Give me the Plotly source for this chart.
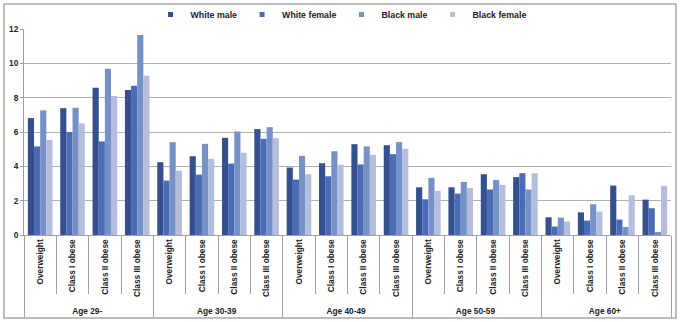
import plotly.graph_objects as go

ages = ["Age 29-", "Age 30-39", "Age 40-49", "Age 50-59", "Age 60+"]
classes = ["Overweight", "Class I obese", "Class II obese", "Class III obese"]

white_male = [6.81, 7.39, 8.58, 8.44, 4.24, 4.59, 5.66, 6.17, 3.93, 4.18, 5.29, 5.23,
              2.78, 2.78, 3.54, 3.37, 1.03, 1.32, 2.88, 2.06]
white_female = [5.16, 5.99, 5.45, 8.70, 3.17, 3.52, 4.16, 5.60, 3.23, 3.42, 4.11, 4.71,
                2.08, 2.41, 2.65, 3.60, 0.49, 0.84, 0.90, 1.56]
black_male = [7.26, 7.41, 9.69, 11.65, 5.41, 5.31, 6.03, 6.28, 4.61, 4.88, 5.16, 5.41,
              3.33, 3.09, 3.21, 2.65, 1.01, 1.79, 0.47, 0.18]
black_female = [5.54, 6.50, 8.09, 9.28, 3.75, 4.44, 4.79, 5.64, 3.54, 4.09, 4.67, 5.02,
                2.57, 2.74, 2.92, 3.60, 0.78, 1.36, 2.31, 2.86]

series = [("White male", white_male, "#34508f"),
          ("White female", white_female, "#4a6cb6"),
          ("Black male", black_male, "#7690c8"),
          ("Black female", black_female, "#b3bedc")]

outer = [a for a in ages for _ in classes]
inner = [c for _ in ages for c in classes]

fig = go.Figure()
for name, vals, col in series:
    fig.add_trace(go.Bar(x=[outer, inner], y=vals, name=name, marker_color=col,
                         marker_line_width=0, showlegend=False))
    fig.add_trace(go.Scatter(x=[[None], [None]], y=[None], mode="markers", name=name,
                             marker=dict(symbol="square", size=5, color=col)))

font = dict(family="Liberation Sans, Arial, sans-serif", size=8.3, color="#222222", weight="bold")

fig.update_layout(
    width=680, height=322,
    margin=dict(l=24, r=9, t=29, b=87, autoexpand=False),
    paper_bgcolor="white", plot_bgcolor="white",
    barmode="group", bargap=0.24, bargroupgap=0,
    font=font,
    legend=dict(orientation="h", x=0.49, xanchor="center", y=1.0, yanchor="bottom",
                font=dict(family="Liberation Sans, Arial, sans-serif", size=8.8, weight="bold"),
                itemwidth=30, tracegroupgap=0, bgcolor="rgba(0,0,0,0)"),
    yaxis=dict(range=[0, 12], dtick=2, showgrid=True, gridcolor="#b0b0b0", gridwidth=1,
               showline=True, linecolor="#a0a0a0", ticks="outside", ticklen=3,
               tickcolor="#a0a0a0", tickfont=font, zeroline=False, automargin=False),
    xaxis=dict(type="multicategory", tickangle=-90, showline=True, linecolor="#a0a0a0",
               ticks="outside", ticklen=58, tickcolor="#a0a0a0", tickfont=font,
               showdividers=True, dividercolor="#a0a0a0", dividerwidth=1, automargin=False),
    shapes=[dict(type="rect", xref="paper", yref="paper", x0=-0.031, x1=1.0077,
                 y0=-0.403, y1=1.121, line=dict(color="#a8a8a8", width=1.5),
                 fillcolor="rgba(0,0,0,0)", layer="below")],
)

fig.write_html("out.html", config={"displayModeBar": False},
               post_script="document.body.style.margin='0';")
